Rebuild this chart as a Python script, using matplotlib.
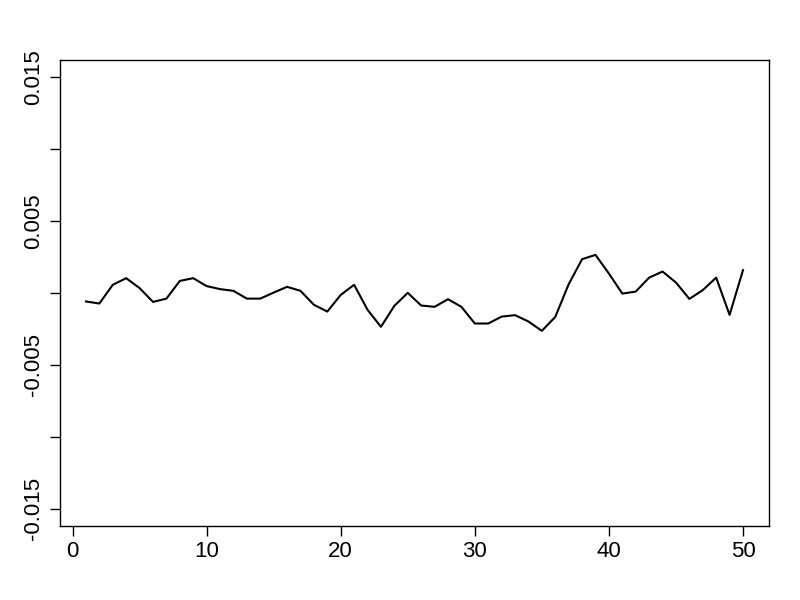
import numpy as np
import matplotlib
matplotlib.use("Agg")
import matplotlib.pyplot as plt

plt.rcParams['font.family'] = ['Liberation Sans', 'DejaVu Sans']

# series values
idx = np.arange(1, 51)
vals = [-0.00060, -0.00074, 0.00056, 0.00102, 0.00033, -0.00063, -0.00040, 0.00083, 0.00102, 0.00047,
        0.00026, 0.00014, -0.00040, -0.00040, 0.00002, 0.00042, 0.00014, -0.00083, -0.00130, -0.00014,
        0.00056, -0.00118, -0.00236, -0.00090, 0.00000, -0.00088, -0.00097, -0.00044, -0.00097, -0.00213,
        -0.00213, -0.00165, -0.00155, -0.00199, -0.00264, -0.00167, 0.00060, 0.00234, 0.00264, 0.00134,
        -0.00005, 0.00009, 0.00106, 0.00148, 0.00072, -0.00042, 0.00019, 0.00106, -0.00153, 0.00158]

xticks = [0, 10, 20, 30, 40, 50]
yticks = [-0.015, -0.010, -0.005, 0.0, 0.005, 0.010, 0.015]
ylabels = ['-0.015', '', '-0.005', '', '0.005', '', '0.015']

fig = plt.figure(figsize=(8, 6), dpi=100)
ax = fig.add_axes([0.0746, 0.1233, 0.8870, 0.7772])
ax.plot(idx, vals, color='black', lw=1.5)

ax.set_xlim(-0.96, 51.96)
ax.set_ylim(-0.0162, 0.0162)
ax.set_xticks(xticks)
ax.set_xticklabels([str(t) for t in xticks])
ax.set_yticks(yticks)
ax.set_yticklabels(ylabels, rotation=90, va='center')
ax.tick_params(direction='out', length=7, width=1, labelsize=16, pad=4)
for s in ax.spines.values():
    s.set_linewidth(1)

fig.savefig('out.png', dpi=100)
